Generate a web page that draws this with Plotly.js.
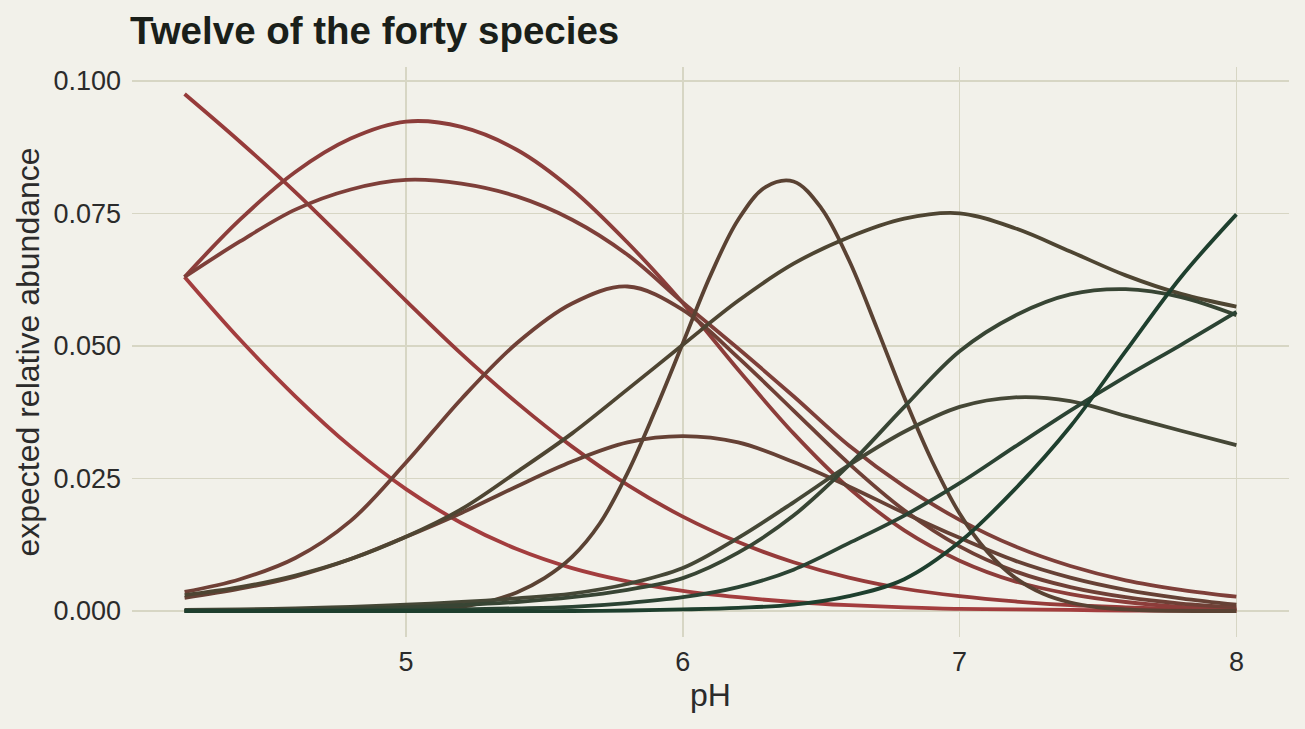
<!DOCTYPE html>
<html>
<head>
<meta charset="utf-8">
<script src="https://cdn.plot.ly/plotly-3.0.1.min.js"></script>
<style>
  html, body { margin: 0; padding: 0; background: #f2f1ea; }
  #chart { width: 1305px; height: 729px; }
</style>
</head>
<body>
<div id="chart"></div>
<script>
// pH grid the curves were read at
var ph = [4.2, 4.4, 4.6, 4.8, 5.0, 5.2, 5.4, 5.6, 5.8, 6.0,
          6.2, 6.4, 6.6, 6.8, 7.0, 7.2, 7.4, 7.6, 7.8, 8.0];
// the narrow species needs a finer grid round its peak
var phNarrow = [4.2, 4.6, 5.0, 5.1, 5.2, 5.3, 5.4, 5.5, 5.6, 5.7, 5.8, 5.9, 6.0, 6.1, 6.2,
                6.3, 6.4, 6.5, 6.6, 6.7, 6.8, 6.9, 7.0, 7.1, 7.2, 7.3, 7.4, 7.5, 7.6, 7.7, 8.0];

// expected relative abundance, one array per species (red end -> green end)
var sp01 = [0.0630, 0.0512, 0.0405, 0.0310, 0.0230, 0.0166, 0.0117, 0.0081, 0.0056, 0.0038,
            0.0026, 0.0017, 0.0011, 0.0007, 0.0004, 0.0003, 0.0002, 0.0001, 0.0001, 0.0000];
var sp02 = [0.0975, 0.0885, 0.0790, 0.0688, 0.0585, 0.0485, 0.0393, 0.0310, 0.0238, 0.0178,
            0.0130, 0.0092, 0.0063, 0.0042, 0.0028, 0.0018, 0.0011, 0.0007, 0.0004, 0.0003];
var sp03 = [0.0630, 0.0738, 0.0828, 0.0891, 0.0923, 0.0913, 0.0870, 0.0795, 0.0695, 0.0581,
            0.0455, 0.0335, 0.0232, 0.0152, 0.0095, 0.0056, 0.0032, 0.0017, 0.0008, 0.0003];
var sp04 = [0.0630, 0.0697, 0.0757, 0.0795, 0.0813, 0.0806, 0.0782, 0.0738, 0.0672, 0.0582,
            0.0495, 0.0405, 0.0312, 0.0235, 0.0172, 0.0122, 0.0085, 0.0058, 0.0040, 0.0027];
var sp05 = [0.0036, 0.0060, 0.0100, 0.0170, 0.0280, 0.0400, 0.0505, 0.0580, 0.0612, 0.0568,
            0.0478, 0.0378, 0.0278, 0.0190, 0.0122, 0.0075, 0.0045, 0.0026, 0.0014, 0.0007];
var sp06 = [0.0025, 0.0042, 0.0065, 0.0098, 0.0140, 0.0185, 0.0235, 0.0282, 0.0318, 0.0330,
            0.0318, 0.0281, 0.0235, 0.0185, 0.0138, 0.0095, 0.0063, 0.0040, 0.0024, 0.0012];
var sp07 = [0.0000, 0.0000, 0.0001, 0.0003, 0.0008, 0.0018, 0.0035, 0.0062, 0.0102, 0.0165,
            0.0260, 0.0378, 0.0505, 0.0633, 0.0738, 0.0800, 0.0810, 0.0760, 0.0662, 0.0535,
            0.0403, 0.0283, 0.0184, 0.0112, 0.0063, 0.0033, 0.0016, 0.0007, 0.0003, 0.0001,
            0.0000];
var sp08 = [0.0030, 0.0045, 0.0067, 0.0098, 0.0140, 0.0192, 0.0262, 0.0335, 0.0418, 0.0502,
            0.0585, 0.0655, 0.0705, 0.0740, 0.0750, 0.0722, 0.0678, 0.0633, 0.0598, 0.0574];
var sp09 = [0.0002, 0.0003, 0.0005, 0.0008, 0.0012, 0.0017, 0.0024, 0.0033, 0.0051, 0.0081,
            0.0138, 0.0205, 0.0275, 0.0338, 0.0385, 0.0403, 0.0396, 0.0368, 0.0340, 0.0313];
var sp10 = [0.0001, 0.0001, 0.0002, 0.0004, 0.0007, 0.0011, 0.0017, 0.0026, 0.0040, 0.0062,
            0.0110, 0.0180, 0.0275, 0.0385, 0.0490, 0.0557, 0.0597, 0.0607, 0.0592, 0.0558];
var sp11 = [0.0000, 0.0000, 0.0001, 0.0001, 0.0002, 0.0003, 0.0005, 0.0008, 0.0015, 0.0026,
            0.0045, 0.0078, 0.0128, 0.0180, 0.0241, 0.0310, 0.0378, 0.0442, 0.0502, 0.0564];
var sp12 = [0.0000, 0.0000, 0.0000, 0.0000, 0.0000, 0.0000, 0.0000, 0.0000, 0.0001, 0.0003,
            0.0006, 0.0012, 0.0028, 0.0060, 0.0130, 0.0230, 0.0348, 0.0490, 0.0630, 0.0748];

var species = [sp01, sp02, sp03, sp04, sp05, sp06, sp07, sp08, sp09, sp10, sp11, sp12];
var colours = ['#a33d3e', '#963b3a', '#8c3d3a', '#7e3f39', '#6f4036', '#664135',
               '#5a4233', '#4e4532', '#454736', '#384534', '#2b4333', '#1e3f2e'];

var yticks = [0, 0.025, 0.05, 0.075, 0.1];
var xticks = [5, 6, 7, 8];

var font = '"Liberation Sans", Arial, sans-serif';

var data = species.map(function (y, i) {
  return {
    x: y.length === phNarrow.length ? phNarrow : ph,
    y: y,
    type: 'scatter',
    mode: 'lines',
    line: {color: colours[i], width: 3.8, shape: 'spline', smoothing: 1},
    hoverinfo: 'skip'
  };
});

var layout = {
  width: 1305,
  height: 729,
  paper_bgcolor: '#f2f1ea',
  plot_bgcolor: '#f2f1ea',
  showlegend: false,
  margin: {l: 132, r: 16, t: 67, b: 92},
  font: {family: font, color: '#2b2b2b'},
  title: {
    text: '<b>Twelve of the forty species</b>',
    font: {family: font, size: 38.5, color: '#1a1f1a'},
    xref: 'container', x: 130 / 1305, xanchor: 'left',
    yref: 'container', y: 1 - 31 / 729, yanchor: 'middle'
  },
  xaxis: {
    range: [4.01, 8.19],
    tickvals: xticks,
    ticktext: xticks.map(String),
    showgrid: true,
    gridcolor: '#d7d6c4',
    gridwidth: 1.5,
    zeroline: false,
    showline: false,
    ticks: '',
    ticklabelstandoff: 6,
    tickfont: {size: 27, color: '#2b2b2b'},
    title: {text: 'pH', font: {size: 32, color: '#2b2b2b'}, standoff: 5}
  },
  yaxis: {
    range: [-0.0049, 0.1026],
    tickvals: yticks,
    tickformat: '.3f',
    showgrid: true,
    gridcolor: '#d7d6c4',
    gridwidth: 1.5,
    zeroline: false,
    showline: false,
    ticks: '',
    ticklabelstandoff: 10,
    tickfont: {size: 27, color: '#2b2b2b'},
    title: {text: 'expected relative abundance', font: {size: 32, color: '#2b2b2b'}, standoff: 4}
  }
};

Plotly.newPlot('chart', data, layout, {staticPlot: true, displayModeBar: false});
</script>
</body>
</html>
